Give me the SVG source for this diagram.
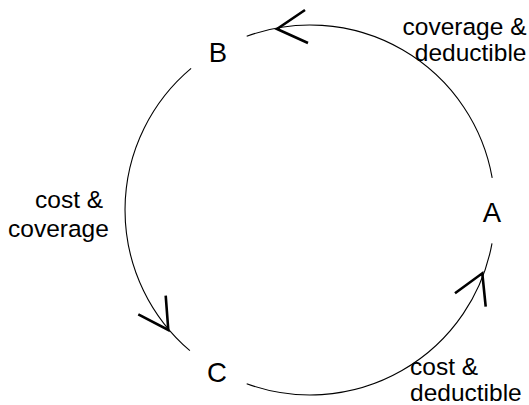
<svg xmlns="http://www.w3.org/2000/svg" width="529" height="405" viewBox="0 0 529 405">
<style>
.arc{fill:none;stroke:#000;stroke-width:1.1}
.head{fill:none;stroke:#000;stroke-width:2.6;stroke-linecap:butt;stroke-linejoin:miter}
text{font-family:"Liberation Sans",Arial,sans-serif;font-size:24.5px;fill:#000}
.node{text-anchor:middle;font-size:27.5px}
</style>
<rect width="529" height="405" fill="#fff"/>
<g id="A"><text class="node" x="492" y="222">A</text></g>
<g id="B"><text class="node" x="218" y="62">B</text></g>
<g id="C"><text class="node" x="217" y="382">C</text></g>
<g id="connectors">
<g id="A-B">
<path class="arc" d="M492.2,177.9 A185,185 0 0 0 246.7,36.2"/>
<path class="head" d="M305,10 L277,29 L308,43"/>
<text text-anchor="end"><tspan x="526.5" y="35">coverage &amp;</tspan><tspan x="526.5" y="61">deductible</tspan></text>
</g>
<g id="B-C">
<path class="arc" d="M191.1,68.3 A185,185 0 0 0 189.9,350.7"/>
<path class="head" d="M138.3,314.3 L168.3,330 L165.7,295.7"/>
<text><tspan x="35" y="208">cost &amp;</tspan><tspan x="8" y="237">coverage</tspan></text>
</g>
<g id="C-A">
<path class="arc" d="M246.7,383.8 A185,185 0 0 0 492,243.4"/>
<path class="head" d="M455,293.3 L482.3,273.3 L485.7,306.7"/>
<text><tspan x="410" y="375">cost &amp;</tspan><tspan x="410" y="401">deductible</tspan></text>
</g>
</g>
</svg>
